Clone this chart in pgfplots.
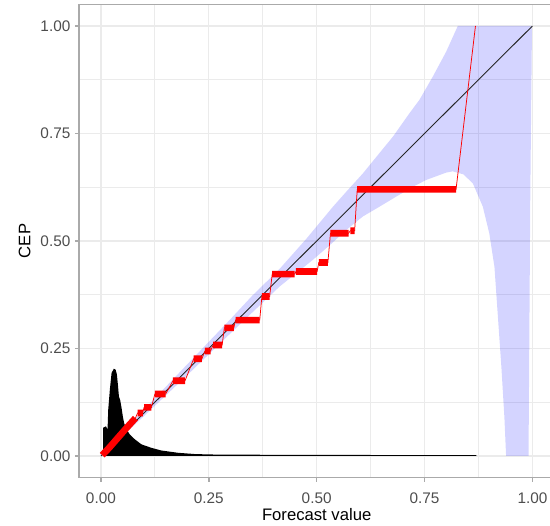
\documentclass[border=0pt]{standalone}
\usepackage{fontspec}
\setmainfont{Liberation Sans}
\usepackage{pgfplots}
\pgfplotsset{compat=1.18}
\definecolor{gridc}{RGB}{235,235,235}
\definecolor{borderc}{RGB}{170,170,170}
\definecolor{tickc}{RGB}{77,77,77}
\begin{document}
\begin{tikzpicture}
\begin{axis}[
  at={(0,0)}, anchor=south west,
  scale only axis, width=284.8pt, height=283.8pt,
  xmin=-0.05, xmax=1.05, ymin=-0.05, ymax=1.05,
  clip mode=individual,
  axis line style={draw=borderc, line width=1pt},
  xtick={0,0.25,0.5,0.75,1}, ytick={0,0.25,0.5,0.75,1},
  minor xtick={0.125,0.375,0.625,0.875},
  minor ytick={0.125,0.375,0.625,0.875},
  xticklabels={0.00,0.25,0.50,0.75,1.00},
  yticklabels={0.00,0.25,0.50,0.75,1.00},
  tick pos=left, tick align=outside,
  major tick length=2.6pt, minor tick length=0pt,
  major tick style={draw=borderc, line width=1pt},
  grid=both,
  major grid style={gridc, line width=0.8pt},
  minor grid style={gridc, line width=0.45pt},
  ticklabel style={font=\fontsize{9.2}{11}\selectfont, text=tickc},
  xticklabel style={anchor=north, inner sep=0pt, yshift=-6.5pt},
  yticklabel style={anchor=east, inner sep=0pt, xshift=-2.6pt},
  xlabel={Forecast value}, ylabel={CEP},
  label style={font=\fontsize{12.4}{14}\selectfont},
  every axis x label/.style={at={(axis description cs:0.5,-0.079)}, anchor=center},
  every axis y label/.style={at={(axis description cs:-0.115,0.5)}, anchor=center, rotate=90},
]
% confidence band
\addplot[fill=blue, fill opacity=0.17, draw=none] coordinates {
 (0,0.003) (0.1,0.108) (0.2,0.213) (0.3,0.318) (0.35,0.372) (0.414,0.435)
 (0.476,0.505) (0.538,0.580) (0.569,0.615) (0.607,0.657) (0.646,0.705)
 (0.677,0.743) (0.715,0.797) (0.738,0.828) (0.769,0.882) (0.800,0.940)
 (0.827,1.0) (0.999,1.0)
 (0.995,0.6) (0.991,0) (0.939,0) (0.935,0.091) (0.928,0.208) (0.920,0.324)
 (0.912,0.440) (0.900,0.518) (0.885,0.580) (0.862,0.634) (0.840,0.655)
 (0.815,0.662) (0.800,0.659) (0.754,0.642) (0.723,0.626) (0.684,0.603)
 (0.646,0.580) (0.607,0.557) (0.569,0.526) (0.530,0.490) (0.491,0.456)
 (0.414,0.394) (0.35,0.333) (0.3,0.285) (0.2,0.188) (0.1,0.093) (0,0)
} -- cycle;
% diagonal
\addplot[black!85, line width=0.55pt] coordinates {(0,0) (1,1)};
% histogram of forecasts
\addplot[fill=black, draw=none] coordinates {
 (0.005,0) (0.005,0.0656) (0.0116,0.069) (0.0154,0.0617) (0.017,0.108)
 (0.0208,0.155) (0.0247,0.193) (0.030,0.203) (0.034,0.201) (0.037,0.190)
 (0.0394,0.166) (0.0417,0.139) (0.0447,0.130) (0.0478,0.112) (0.051,0.091)
 (0.054,0.076) (0.0594,0.0616) (0.067,0.050) (0.0787,0.0387) (0.094,0.027)
 (0.117,0.019) (0.140,0.0128) (0.179,0.0074) (0.218,0.0045) (0.256,0.0035)
 (0.333,0.003) (0.5,0.0025) (0.7,0.0022) (0.87,0.002) (0.87,0)
} -- cycle;
% CEP thin line
\addplot[red, line width=0.45pt] coordinates {
 (0.003,0.002) (0.02,0.02) (0.04,0.043) (0.06,0.066) (0.08,0.088)
 (0.085,0.100) (0.097,0.100) (0.100,0.113) (0.117,0.113)
 (0.125,0.144) (0.150,0.144) (0.167,0.175) (0.195,0.175)
 (0.215,0.226) (0.234,0.226) (0.241,0.244) (0.254,0.244)
 (0.260,0.258) (0.281,0.258) (0.286,0.298) (0.308,0.298)
 (0.312,0.316) (0.368,0.316) (0.373,0.371) (0.391,0.371)
 (0.397,0.423) (0.449,0.423) (0.452,0.429) (0.501,0.429)
 (0.505,0.450) (0.526,0.450) (0.532,0.518) (0.574,0.518)
 (0.578,0.524) (0.588,0.524) (0.594,0.620) (0.823,0.620)
 (0.868,1.0)
};
% CEP thick points
\addplot[red, line width=4pt, unbounded coords=jump] coordinates {
 (0.003,0.002) (0.02,0.02) (0.04,0.043) (0.06,0.066) (0.08,0.088) (0.082,nan)
 (0.085,0.100) (0.097,0.100) (0.098,nan)
 (0.100,0.113) (0.117,0.113) (0.12,nan)
 (0.125,0.144) (0.150,0.144) (0.16,nan)
 (0.167,0.175) (0.195,0.175) (0.2,nan)
 (0.215,0.226) (0.234,0.226) (0.235,nan)
 (0.241,0.244) (0.254,0.244) (0.255,nan)
 (0.260,0.258) (0.281,0.258) (0.282,nan)
 (0.286,0.298) (0.308,0.298) (0.31,nan)
 (0.312,0.316) (0.368,0.316) (0.37,nan)
 (0.373,0.371) (0.391,0.371) (0.393,nan)
 (0.397,0.423) (0.449,0.423) (0.45,nan)
 (0.452,0.429) (0.501,0.429) (0.503,nan)
 (0.505,0.450) (0.526,0.450) (0.53,nan)
 (0.532,0.518) (0.574,0.518) (0.576,nan)
 (0.578,0.524) (0.588,0.524) (0.59,nan)
 (0.594,0.620) (0.823,0.620)
};
\draw[borderc, line width=1pt] (rel axis cs:0,0) rectangle (rel axis cs:1,1);
\end{axis}
\pgfresetboundingbox
\path[use as bounding box] (-47.6pt,-29.1pt) rectangle (282.4pt,286.5pt);
\end{tikzpicture}
\end{document}
